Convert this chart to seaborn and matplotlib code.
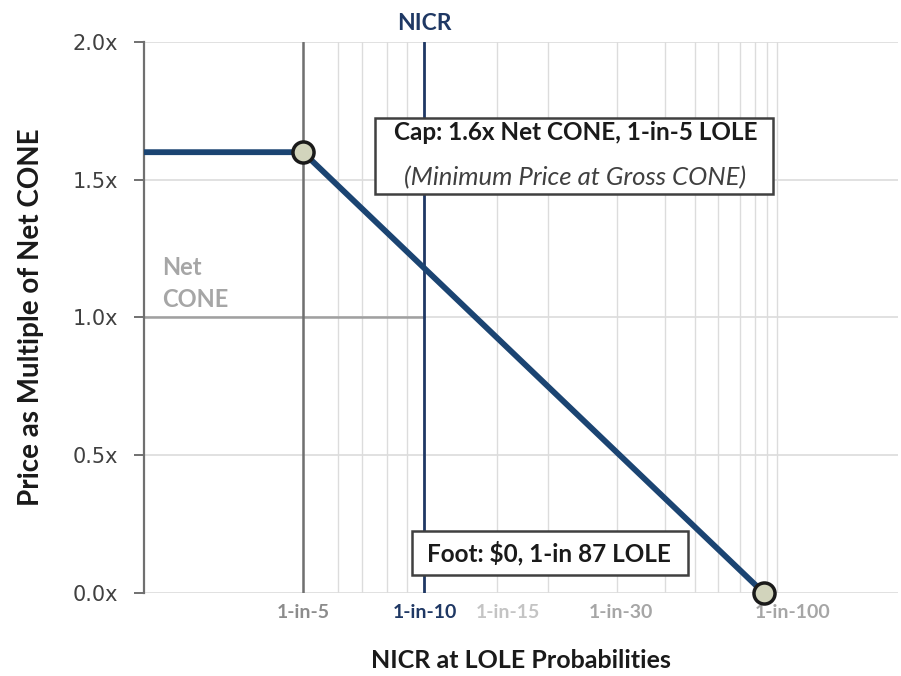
import numpy as np
import pandas as pd
import matplotlib
matplotlib.use("Agg")
import matplotlib.pyplot as plt
from matplotlib.patches import Rectangle
import seaborn as sns

# ---- data ----
# LOLE "1-in-N" gridline values and their position on the reserve-margin axis (% vs NICR)
grid_lole = [5, 6, 7, 8, 9, 10, 15, 20, 30, 40, 50, 60, 70, 80, 90, 100]
grid_rm = [-3.03, -2.15, -1.55, -0.93, -0.43, 0.0, 1.83, 3.1, 4.83, 6.03, 6.78, 7.35, 7.9, 8.28, 8.58, 8.83]
tick_labels = ["1-in-5", "1-in-10", "1-in-15", "1-in-30", "1-in-100"]
tick_label_rm = [-3.03, 0.03, 2.08, 4.93, 9.2]
tick_colors = ["#8c8c8c", "#1f3864", "#c4c4c4", "#a6a6a6", "#a6a6a6"]
curve_lole = [None, 5, 87]          # None = left edge of the chart
curve_price = [1.6, 1.6, 0.0]
cap_lole, foot_lole = 5, 87
nicr_lole = 10
net_cone = 1.0
y_ticks = [0.0, 0.5, 1.0, 1.5, 2.0]
x_min, x_max = -7.0, 11.85

def rm(lole):
    return float(np.interp(lole, grid_lole, grid_rm))

curve_x = [x_min if v is None else rm(v) for v in curve_lole]
df = pd.DataFrame({"rm": curve_x, "price": curve_price})
pts = pd.DataFrame({"rm": [rm(cap_lole), rm(foot_lole)], "price": [1.6, 0.0]})

sns.set_theme(style="white")
plt.rcParams["font.family"] = ["Lato", "DejaVu Sans"]

fig = plt.figure(figsize=(9.01, 6.76), dpi=100)
ax = fig.add_axes([0.160, 0.1228, 0.837, 0.8151])
ax.set_xlim(x_min, x_max)
ax.set_ylim(0, 2.0)

light = "#dcdcdc"
for y in y_ticks:
    ax.axhline(y, color=light, lw=1.2, zorder=0)
for g in grid_rm:
    ax.plot([g, g], [0, 2.0], color=light, lw=1.0, zorder=0)
ax.plot([x_min, rm(nicr_lole)], [net_cone, net_cone], color="#a0a0a0", lw=1.8, zorder=1)
ax.plot([rm(cap_lole)] * 2, [0, 2.0], color="#707070", lw=1.8, zorder=1)
ax.plot([rm(nicr_lole)] * 2, [0, 2.0], color="#1f3864", lw=2.0, zorder=1)
ax.text(rm(nicr_lole), 2.03, "NICR", color="#1f3864", fontsize=16.5, fontweight="bold",
        ha="center", va="bottom")

sns.lineplot(data=df, x="rm", y="price", ax=ax, color="#1b4472", lw=4.2, zorder=3)
sns.scatterplot(data=pts, x="rm", y="price", ax=ax, s=230, color="#d2d4bc",
                edgecolor="#1a1a1a", linewidth=2.5, zorder=7, clip_on=False)

for s in ["top", "right", "bottom"]:
    ax.spines[s].set_visible(False)
ax.spines["left"].set_color("#707070")
ax.spines["left"].set_linewidth(1.6)

ax.set_yticks(y_ticks)
ax.set_yticklabels([f"{v:.1f}x" for v in y_ticks], fontsize=15, color="#404040",
                   family="DejaVu Sans")
ax.tick_params(axis="y", direction="out", length=7, width=1.4, color="#707070",
               left=True, pad=12)
ax.set_xticks(tick_label_rm)
ax.set_xticklabels(tick_labels, fontsize=14, fontweight="bold")
for lbl, c in zip(ax.get_xticklabels(), tick_colors):
    lbl.set_color(c)
ax.tick_params(axis="x", length=0, pad=8)

ax.set_xlabel("NICR at LOLE Probabilities", fontsize=18, fontweight="bold",
              color="#1a1a1a", labelpad=20)
ax.set_ylabel("Price as Multiple of Net CONE", fontsize=20, fontweight="bold",
              color="#1a1a1a", labelpad=20)

ax.text(-6.55, 1.025, "Net\nCONE", color="#a6a6a6", fontsize=17, fontweight="bold",
        ha="left", va="bottom", linespacing=1.45)

# annotation boxes
ax.add_patch(Rectangle((-1.225, 1.448), 9.95, 0.276, fc="white", ec="#404040",
                       lw=1.8, zorder=5))
ax.text(3.78, 1.672, "Cap: 1.6x Net CONE, 1-in-5 LOLE", fontsize=17.5, fontweight="bold",
        color="#1a1a1a", ha="center", va="center", zorder=6)
ax.text(3.78, 1.506, "(Minimum Price at Gross CONE)", fontsize=18.5, style="italic",
        color="#404040", ha="center", va="center", zorder=6)
ax.add_patch(Rectangle((-0.3, 0.065), 6.9, 0.16, fc="white", ec="#404040",
                       lw=1.8, zorder=5))
ax.text(3.12, 0.145, "Foot: $0, 1-in 87 LOLE", fontsize=17.5, fontweight="bold",
        color="#1a1a1a", ha="center", va="center", zorder=6)

fig.savefig("out.png", dpi=100)
